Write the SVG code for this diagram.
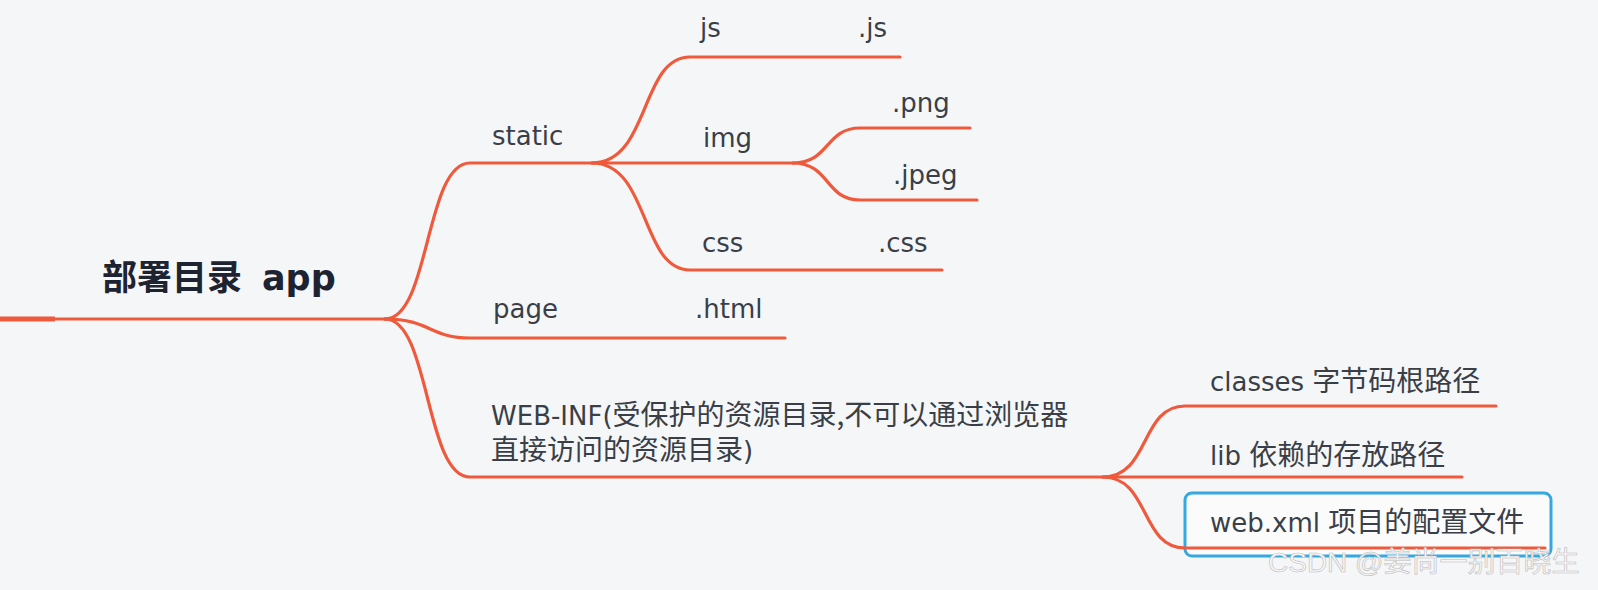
<svg xmlns="http://www.w3.org/2000/svg" width="1598" height="590" viewBox="0 0 1598 590">
<style>
.lbl{font-family:"DejaVu Sans","Noto Sans CJK SC",sans-serif;font-size:26px;fill:#3a3f47}
.cj{font-family:"Noto Sans CJK SC",sans-serif;font-size:28px}
.root{font-family:"DejaVu Sans","Noto Sans CJK SC",sans-serif;font-size:35px;font-weight:bold;fill:#1d2330}
.ln{fill:none;stroke:#ef5a3c;stroke-width:3.2;stroke-linecap:round}
.wm{font-family:"Liberation Sans","Noto Sans CJK SC",sans-serif;font-size:28px;fill:#f7f7f7;stroke:#bdbdbd;stroke-width:0.6}
</style>
<rect width="1598" height="590" fill="#f5f6f8"/>
<g id="root"><text class="root" y="290"><tspan x="102">部署目录</tspan><tspan x="262">app</tspan></text></g>
<g id="static"><text class="lbl" x="492" y="145">static</text></g>
<g id="js"><text class="lbl" x="700" y="37">js</text><text class="lbl" x="858" y="37">.js</text></g>
<g id="img"><text class="lbl" x="703" y="147">img</text></g>
<g id="png"><text class="lbl" x="892" y="112">.png</text></g>
<g id="jpeg"><text class="lbl" x="893" y="184">.jpeg</text></g>
<g id="css"><text class="lbl" x="702" y="252">css</text><text class="lbl" x="878" y="252">.css</text></g>
<g id="page"><text class="lbl" x="493" y="318">page</text><text class="lbl" x="695" y="318">.html</text></g>
<g id="webinf"><text class="lbl" x="491" y="425">WEB-INF(<tspan class="cj">受保护的资源目录,不可以通过浏览器</tspan></text><text class="lbl" x="491" y="460"><tspan class="cj">直接访问的资源目录</tspan>)</text></g>
<g id="classes"><text class="lbl" x="1210" y="391">classes <tspan class="cj">字节码根路径</tspan></text></g>
<g id="lib"><text class="lbl" x="1210" y="465">lib <tspan class="cj">依赖的存放路径</tspan></text></g>
<g id="webxml"><rect x="1185" y="493" width="366" height="63" rx="7" fill="#fbfbfc" stroke="#35a8e2" stroke-width="3"/><text class="lbl" x="1210" y="532">web.xml <tspan class="cj">项目的配置文件</tspan></text></g>
<g id="connectors">
<path d="M0,319 L55,319" fill="none" stroke="#ef5a3c" stroke-width="5"/>
<path class="ln" d="M0,319 L385,319"/>
<path class="ln" d="M385,319 C430,319 425,163 470,163 L793,163"/>
<path class="ln" d="M592,163 C650,163 640,57 690,57 L900,57"/>
<path class="ln" d="M592,163 C650,163 640,270 690,270 L942,270"/>
<path class="ln" d="M793,163 C830,163 825,128 860,128 L970,128"/>
<path class="ln" d="M793,163 C830,163 825,200 860,200 L977,200"/>
<path class="ln" d="M385,319 C430,319 430,338 470,338 L785,338"/>
<path class="ln" d="M385,319 C430,319 425,477 470,477 L1462,477"/>
<path class="ln" d="M1103,477 C1150,477 1140,406 1185,406 L1496,406"/>
<path class="ln" d="M1103,477 C1150,477 1140,548 1185,548 L1545,548"/>
</g>
<text class="wm" x="1268" y="572">CSDN @姜尚一别百晓生</text>
</svg>
